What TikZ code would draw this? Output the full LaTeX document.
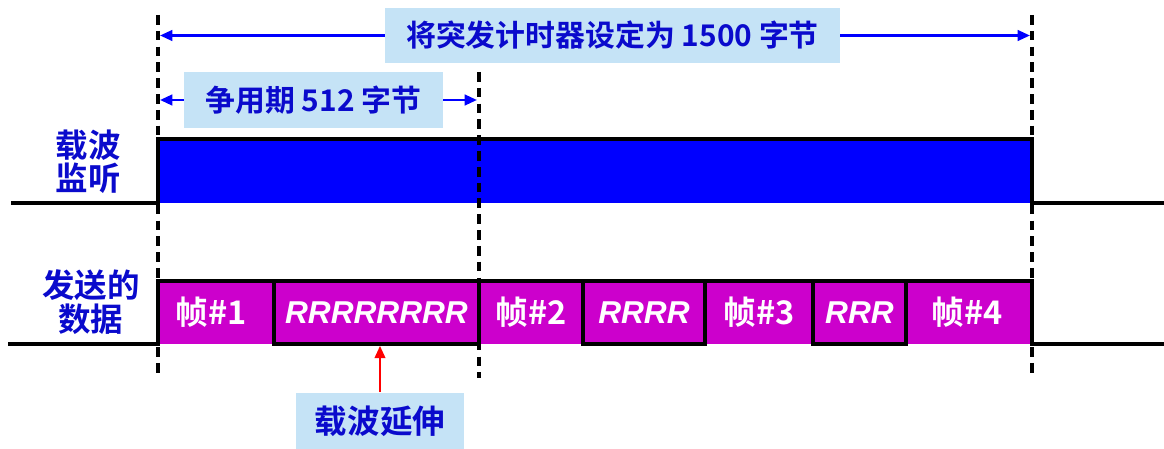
\documentclass[tikz,border=0pt]{standalone}
\usepackage{fontspec}
\setmainfont{Noto Sans CJK SC}[BoldFont={Noto Sans CJK SC Bold}]
\newfontfamily\rlatin{Liberation Sans}
\usetikzlibrary{arrows.meta}
\definecolor{lblue}{HTML}{C5E3F6}
\definecolor{tblue}{HTML}{0A0ACC}
\definecolor{carrier}{HTML}{0000FF}
\definecolor{framecol}{HTML}{CC00CC}
\newcommand\cjkb{\fontsize{17}{19}\selectfont\bfseries}
\newcommand\cjkc{\fontsize{18.5}{19}\selectfont\bfseries}
\newcommand\rfont{\rlatin\fontsize{18}{19}\selectfont\bfseries\itshape}
\begin{document}
\begin{tikzpicture}[x=0.02cm,y=-0.02cm,
  lbox/.style={fill=lblue, text=tblue, font=\cjkb, inner sep=0pt},
  dashln/.style={line width=2pt, dash pattern=on 5.5pt off 3.5pt},
  wave/.style={line width=2.1pt, line join=miter},
  darr/.style={draw=carrier, line width=1.4pt, -{Triangle[length=7pt,width=6pt]}},
  rarr/.style={draw=red, line width=1.3pt, -{Triangle[length=7pt,width=6pt]}},
  frm/.style={text=white, font=\cjkc, inner sep=0pt},
  rbox/.style={draw=black, line width=2.1pt, fill=framecol, text=white, font=\rfont, inner sep=0pt, minimum height=1.26cm},
  side/.style={text=tblue, font=\cjkc, align=center, inner sep=0pt}
]
\useasboundingbox (0,0) rectangle (1164,449);

% carrier sense
\fill[carrier] (158,139) rectangle (1032,203);
\draw[wave] (11,203) -- (158,203) -- (158,139) -- (1032,139) -- (1032,203) -- (1164,203);

% data
\fill[framecol] (158,281) rectangle (1032,344);
\draw[wave] (8,344) -- (158,344) -- (158,281) -- (1032,281) -- (1032,344) -- (1164,344);

\node[rbox, minimum width=4.1cm] (r8) at (376.5,312.5) {RRRRRRRR\hspace{0.3cm}};
\node[rbox, minimum width=2.44cm] (r4) at (644,312.5) {RRRR};
\node[rbox, minimum width=1.86cm] (r3) at (859.5,312.5) {RRR};

\node[frm] (f1) at (211,312) {帧\#1};
\node[frm] (f2) at (531,312) {帧\#2};
\node[frm] (f3) at (759,312) {帧\#3};
\node[frm] (f4) at (967,312) {帧\#4};

% side labels
\node[side] (cs) at (88.5,162) {载波\\监听};
\node[side] (tx) at (91,302) {发送的\\数据};

% dashed lines
\coordinate (d1t) at (158,15);
\coordinate (d1b) at (158,378);
\coordinate (d2t) at (479,72);
\coordinate (d2b) at (479,378);
\coordinate (d3t) at (1032,15);
\coordinate (d3b) at (1032,378);
\draw[dashln] (d1t) -- (d1b);
\draw[dashln] (d2t) -- (d2b);
\draw[dashln] (d3t) -- (d3b);

% labels with arrows
\node[lbox, minimum width=9.1cm, minimum height=1.1cm] (burst) at (612.5,35.5) {将突发计时器设定为 1500 字节};
\node[lbox, minimum width=5.18cm, minimum height=1.12cm] (cont) at (313.5,100) {争用期 512 字节};
\node[lbox, font=\cjkc, minimum width=3.36cm, minimum height=1.14cm] (ext) at (380,421) {载波延伸};

\coordinate (bl) at (160,35.5);
\coordinate (br) at (1030,35.5);
\coordinate (cl) at (160,100);
\coordinate (cr) at (477,100);
\draw[darr] (burst.west) -- (bl);
\draw[darr] (burst.east) -- (br);
\draw[darr] (cont.west) -- (cl);
\draw[darr] (cont.east) -- (cr);
\draw[rarr] (ext.north) -- (r8.south -| ext.north);
\end{tikzpicture}
\end{document}
